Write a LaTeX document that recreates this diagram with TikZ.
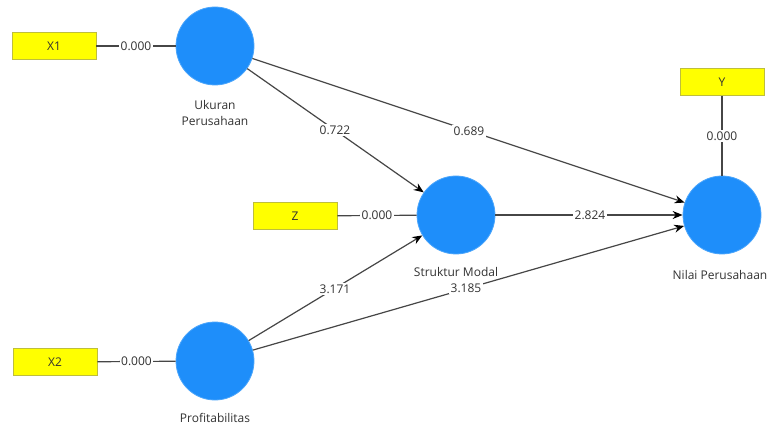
\documentclass[tikz,border=0pt]{standalone}
\usepackage{fontspec}
\setmainfont{Open Sans}
\usetikzlibrary{arrows.meta}
\definecolor{lvblue}{RGB}{30,142,250}
\definecolor{indyellow}{RGB}{255,255,0}
\definecolor{indborder}{RGB}{190,190,60}
\definecolor{linegray}{RGB}{70,70,70}
\definecolor{txtgray}{RGB}{50,50,50}
\tikzset{
  latent/.style={circle, fill=lvblue, draw=lvblue!80!white, line width=0.8pt, minimum size=78pt, inner sep=0pt},
  indicator/.style={rectangle, fill=indyellow, draw=indborder, line width=0.8pt, minimum width=84pt, minimum height=27pt, inner sep=0pt, text=txtgray, font=\fontsize{12}{14}\selectfont},
  lvname/.style={text=txtgray, font=\fontsize{12}{16}\selectfont, align=center, inner sep=0pt},
  link/.style={draw=linegray, line width=1.2pt},
  structpath/.style={link, -{Stealth[length=10pt, width=8pt, black]}},
  coef/.style={fill=white, text=txtgray, font=\fontsize{12}{14}\selectfont, inner sep=1.5pt}
}
\begin{document}
\begin{tikzpicture}[x=1pt, y=-1pt]
  \clip (0,0) rectangle (768,430);
  \fill[white] (0,0) rectangle (768,430);

  % latent variables
  \node[latent] (uk) at (215,46) {};
  \node[latent] (sm) at (456,215) {};
  \node[latent] (np) at (722,215) {};
  \node[latent] (pr) at (215,361) {};

  % indicators
  \node[indicator] (x1) at (54,46) {X1};
  \node[indicator] (z) at (295,216) {Z};
  \node[indicator] (y) at (722,82) {Y};
  \node[indicator] (x2) at (55,362) {X2};

  % variable names
  \node[lvname] (ukname) at (215,113) {Ukuran\\Perusahaan};
  \node[lvname] (smname) at (456,272) {Struktur Modal};
  \node[lvname] (npname) at (720,275) {Nilai Perusahaan};
  \node[lvname] (prname) at (215,418) {Profitabilitas};

  % outer loadings
  \draw[link] (x1) -- node[coef] {0.000} (uk);
  \draw[link] (z) -- node[coef] {0.000} (sm);
  \draw[link] (x2) -- node[coef] {0.000} (pr);
  \draw[link] (y) -- node[coef] {0.000} (np);

  % structural paths, coefficient at the midpoint of each
  \draw[structpath] (uk) -- (sm);
  \draw[structpath] (uk) -- (np);
  \draw[structpath] (sm) -- (np);
  \draw[structpath] (pr) -- (sm);
  \draw[structpath] (pr) -- (np);

  \node[coef] (c1) at (335,130) {0.722};
  \node[coef] (c2) at (469,131) {0.689};
  \node[coef] (c3) at (590,215) {2.824};
  \node[coef] (c4) at (335,289) {3.171};
  \node[coef] (c5) at (466,288) {3.185};
\end{tikzpicture}
\end{document}
